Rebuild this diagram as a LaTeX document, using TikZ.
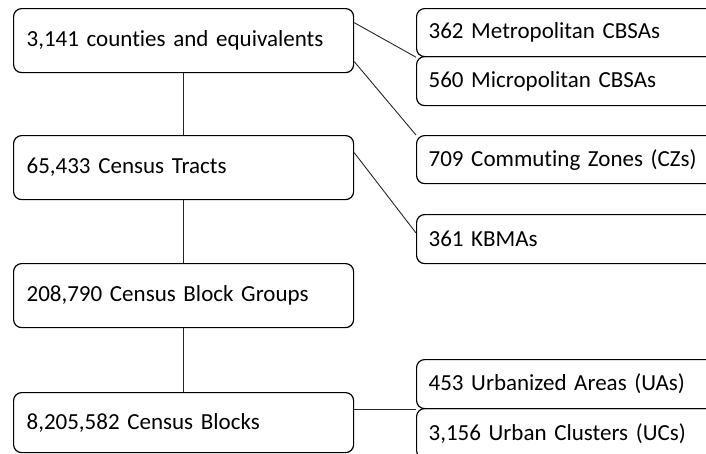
\documentclass[tikz,border=0pt]{standalone}
\usepackage{fontspec}
\setmainfont{Carlito}[RawFeature=-liga, WordSpace=0.7]

\begin{document}
\begin{tikzpicture}[x=1pt,y=-1pt,
    level/.style={draw, rounded corners=8pt, line width=1.2pt, anchor=north west,
        text width=314pt, inner xsep=13pt, minimum height=64pt, align=left,
        font=\fontsize{23}{28}\selectfont},
    group/.style={level, text width=330pt, inner xsep=12pt, minimum height=48pt},
    link/.style={line width=0.9pt, draw=black!85}]

            \clip (0,0) rectangle (706,453);

            \node[level] (county) at (13,8) {3,141 counties and equivalents};
            \node[level] (tract) at (13,135) {65,433 Census Tracts};
            \node[level] (bgroup) at (13,263) {208,790 Census Block Groups};
            \node[level, minimum height=60pt] (block) at (13,392) {8,205,582 Census Blocks};

            \node[group] (metro) at (416,8) {362 Metropolitan CBSAs};
            \node[group, minimum height=49pt] (micro) at (416,56) {560 Micropolitan CBSAs};
            \node[group] (cz) at (416,135) {709 Commuting Zones (CZs)};
            \node[group, minimum height=49pt] (kbma) at (416,214) {361 KBMAs};
            \node[group, minimum height=49pt] (ua) at (416,359) {453 Urbanized Areas (UAs)};
            \node[group, minimum height=50pt] (uc) at (416,408) {3,156 Urban Clusters (UCs)};

            \draw[link] (county) -- (tract);
            \draw[link] (tract) -- (bgroup);
            \draw[link] (bgroup) -- (block);

            \draw[link] (county.6) -- (metro.south west);
            \draw[link] (county.-7) -- (cz.north west);
            \draw[link] (tract.5) -- (kbma.178);
            \draw[link] (block.east |- ua.south west) -- (ua.south west);

\end{tikzpicture}
\end{document}
